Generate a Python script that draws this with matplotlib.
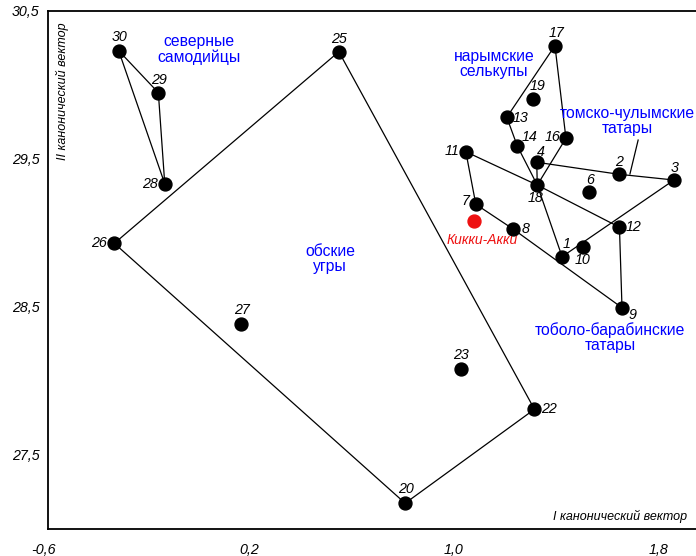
import matplotlib.pyplot as plt
import matplotlib.transforms as mtransforms

plt.rcParams['font.family'] = ['Liberation Sans', 'DejaVu Sans']

# canonical scores of the samples (I vector, II vector)
ids = ['1', '2', '3', '4', '6', '7', '8', '9', '10', '11', '12', '13', '14', '16',
       '17', '18', '19', '20', '22', '23', '25', '26', '27', '28', '29', '30']
x_vals = [1.408, 1.629, 1.845, 1.309, 1.513, 1.071, 1.218, 1.642, 1.489, 1.032, 1.632, 1.192, 1.233, 1.423,
          1.380, 1.311, 1.296, 0.795, 1.300, 1.012, 0.536, -0.341, 0.153, -0.144, -0.169, -0.324]
y_vals = [28.840, 29.397, 29.358, 29.478, 29.279, 29.194, 29.025, 28.495, 28.903, 29.549, 29.039, 29.782, 29.588, 29.640,
          30.266, 29.324, 29.903, 27.174, 27.809, 28.081, 30.225, 28.930, 28.385, 29.333, 29.948, 30.232]

kikki_x = 1.063
kikki_y = 29.083

# group outlines (sample numbers)
groups = {
    'северные\nсамодийцы': ['30', '29', '28', '30'],
    'обские\nугры': ['26', '25', '22', '20', '26'],
    'нарымские\nселькупы': ['17', '13', '14', '18', '16', '17'],
    'томско-чулымские\nтатары': ['4', '2', '3', '1', '18', '4'],
    'тоболо-барабинские\nтатары': ['11', '18', '12', '9', '8', '7', '11'],
}
group_label_pos = {
    'северные\nсамодийцы': (-0.010, 30.240),
    'обские\nугры': (0.502, 28.824),
    'нарымские\nселькупы': (1.142, 30.139),
    'томско-чулымские\nтатары': (1.664, 29.760),
    'тоболо-барабинские\nтатары': (1.595, 28.294),
}

x_ticks = [-0.6, 0.2, 1.0, 1.8]
y_ticks = [27.5, 28.5, 29.5, 30.5]

# label offsets in pixels (dx, dy) relative to the dot
offsets = {
    '30': (1, 14), '29': (1, 13), '28': (-15, 0), '25': (0, 13), '26': (-15, 0),
    '27': (1, 14), '20': (1, 14), '22': (15, 0), '23': (0, 14), '17': (2, 13),
    '19': (4, 13), '13': (14, -1), '14': (12, 9), '16': (-13, 1), '4': (4, 10),
    '11': (-14, 1), '18': (-2, -13), '2': (0, 12), '3': (1, 12), '6': (1, 12),
    '7': (-10, 3), '8': (12, 0), '1': (4, 13), '10': (0, -13), '12': (14, 0),
    '9': (10, -7),
}

fig = plt.figure(figsize=(6.96, 5.56), dpi=100)
ax = fig.add_axes([48 / 696, 27 / 556, 648 / 696, 518 / 556])

pos = {k: (x, y) for k, x, y in zip(ids, x_vals, y_vals)}

for name, members in groups.items():
    gx = [pos[m][0] for m in members]
    gy = [pos[m][1] for m in members]
    ax.plot(gx, gy, color='black', lw=0.9, zorder=2)
    lx, ly = group_label_pos[name]
    ax.text(lx, ly, name, color='#0000ff', fontsize=11.3, ha='center', va='center',
            linespacing=1.0, zorder=4)

# leader line for томско-чулымские татары
ax.plot([1.705, 1.673], [29.628, 29.399], color='black', lw=0.9, zorder=2)

ax.plot(x_vals, y_vals, 'o', color='black', ms=9.3, zorder=3)
ax.plot([kikki_x], [kikki_y], 'o', color='#ee1111', ms=9.3, zorder=3)
ax.text(1.095, 28.953, 'Кикки-Акки', color='#ee1111', fontsize=10,
        style='italic', ha='center', va='center')

for k in ids:
    dx, dy = offsets[k]
    ax.annotate(k, pos[k], xytext=(dx, dy), textcoords='offset pixels',
                ha='center', va='center', fontsize=10.3, style='italic')

ax.set_xlim(-0.6, 1.931)
ax.set_ylim(27.0, 30.5)
ax.set_xticks(x_ticks)
ax.set_yticks(y_ticks)
ax.set_xticklabels([f'{v:.1f}'.replace('.', ',') for v in x_ticks])
ax.set_yticklabels([f'{v:.1f}'.replace('.', ',') for v in y_ticks])
ax.tick_params(length=0, labelsize=10.3)
ax.tick_params(axis='x', pad=10)
ax.tick_params(axis='y', pad=6)
shift = mtransforms.ScaledTranslation(-4 / 100, 0, fig.dpi_scale_trans)
for lab in ax.get_xticklabels():
    lab.set_style('italic')
    lab.set_transform(lab.get_transform() + shift)
for lab in ax.get_yticklabels():
    lab.set_style('italic')

ax.spines['right'].set_visible(False)
for s in ['left', 'bottom', 'top']:
    ax.spines[s].set_linewidth(1.3)

ax.text(0.0216, 0.979, 'II канонический вектор', transform=ax.transAxes, rotation=90,
        ha='center', va='top', fontsize=9, style='italic')
ax.text(0.986, 0.025, 'I канонический вектор', transform=ax.transAxes,
        ha='right', va='center', fontsize=9, style='italic')

fig.savefig('out.png', dpi=100)
